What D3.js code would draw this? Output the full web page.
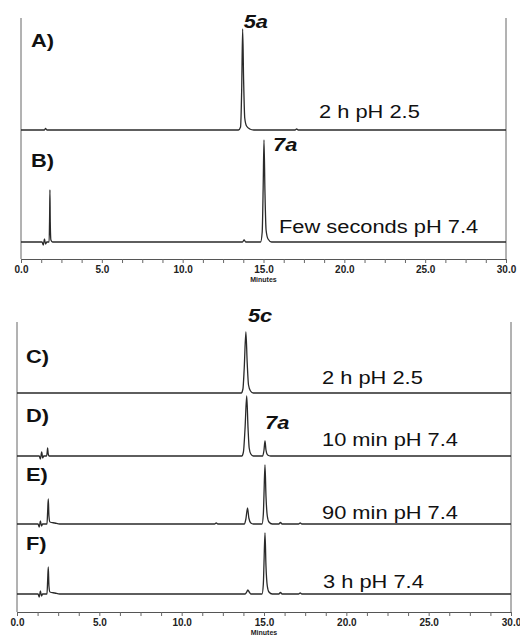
<!DOCTYPE html>
<html>
<head>
<meta charset="utf-8">
<script src="https://cdn.jsdelivr.net/npm/d3@7"></script>
<style>
  body { margin: 0; background: #fff; }
  svg { display: block; }
</style>
</head>
<body>
<svg id="chart"></svg>
<script>
// retention time axis, minutes
const timeDomain = [0, 30];
const minorStep = 1.25;

// chromatogram traces: [minutes, detector signal (a.u.)]
const traceA = [[0,0],[1.45,0],[1.52,1.5],[1.6,0],[13.45,0],[13.58,3],[13.65,40],[13.71,101],[13.77,50],[13.84,12],[13.95,4],[14.15,1],[14.4,0],[16.95,0],[17.05,1],[17.15,0],[30,0]];
const traceB = [[0,0],[1.3,0],[1.38,-3],[1.45,3],[1.52,-2],[1.6,0],[1.74,0],[1.77,25],[1.79,52],[1.81,20],[1.85,2],[1.95,0],[13.7,0],[13.8,2],[13.9,0],[14.82,0],[14.92,10],[14.98,55],[15.03,102],[15.09,50],[15.16,12],[15.28,3],[15.5,0],[30,0]];
const traceC = [[0,0],[13.62,0],[13.72,4],[13.8,25],[13.9,61],[13.98,30],[14.06,8],[14.18,2],[14.35,0],[30,0]];
const traceD = [[0,0],[1.35,0],[1.42,-3],[1.5,4],[1.56,-2],[1.63,0],[1.8,0],[1.84,5],[1.86,8],[1.89,3],[1.94,0],[13.65,0],[13.75,4],[13.85,28],[13.95,60],[14.03,28],[14.1,8],[14.2,2],[14.35,0],[14.92,0],[15.0,6],[15.06,15],[15.12,6],[15.22,1],[15.4,0],[30,0]];
const traceE = [[0,0],[1.28,0],[1.35,-3],[1.42,3],[1.49,-2],[1.56,0],[1.82,0],[1.86,12],[1.9,25],[1.94,8],[2.0,2],[2.3,1],[2.6,0],[12.0,0],[12.1,1],[12.2,0],[13.8,0],[13.9,5],[14.0,16],[14.08,6],[14.2,1],[14.35,0],[14.88,0],[14.96,10],[15.0,30],[15.06,59],[15.12,28],[15.2,8],[15.3,2],[15.5,0],[15.9,0],[16.0,1.5],[16.1,0],[17.1,0],[17.2,1],[17.3,0],[30,0]];
const traceF = [[0,0],[1.28,0],[1.35,-3],[1.42,3],[1.49,-2],[1.56,0],[1.82,0],[1.86,13],[1.9,27],[1.94,8],[2.0,2],[2.3,1],[2.6,0],[13.85,0],[13.95,2],[14.02,4],[14.1,2],[14.2,0],[14.88,0],[14.96,10],[15.0,31],[15.06,61],[15.12,28],[15.2,8],[15.3,2],[15.5,0],[15.9,0],[16.0,1.5],[16.1,0],[17.1,0],[17.2,1],[17.3,0],[30,0]];

const panelLabels = ["A)", "B)", "C)", "D)", "E)", "F)"];
const conditions = ["2 h pH 2.5", "Few seconds pH 7.4", "2 h pH 2.5", "10 min pH 7.4", "90 min pH 7.4", "3 h pH 7.4"];
// compound names and the retention time of the peak they tag
const compoundNames = ["5a", "7a", "5c", "7a"];
const compoundTimes = [13.71, 15.03, 13.9, 15.06];

const width = 520, height = 635;
const fontFamily = "'Liberation Sans', Arial, Helvetica, sans-serif";
const stretch = 1.15;

const svg = d3.select("#chart").attr("width", width).attr("height", height);

// two stacked panels; offsets stack the traces inside each panel (signal units)
const panels = [
  { xRange: [21, 506], yRange: [259, 18], maxY: 241, traces: [traceA, traceB], offsets: [129, 17],
    idx: [0, 1], labelX: [31, 31], labelY: [47, 167], textX: [319, 279], textY: [118, 233],
    comp: [0, 1], compDx: [1, 9], compY: [28, 151] },
  { xRange: [17, 511], yRange: [612, 322], maxY: 290, traces: [traceC, traceD, traceE, traceF], offsets: [219, 156, 88, 18],
    idx: [2, 3, 4, 5], labelX: [26, 26, 26, 26], labelY: [363, 422, 481, 550], textX: [322, 322, 322, 323], textY: [384, 446, 519, 588],
    comp: [2, 3], compDx: [2, 0], compY: [322, 429] }
];

const line = (x, y, off) => d3.line()
  .x(d => x(d[0]))
  .y(d => y(d[1] + off))
  .curve(d3.curveMonotoneX);

function stretchedText(g, x, y, txt, size, weight, style) {
  g.append("text")
    .attr("transform", `translate(${x},${y}) scale(${stretch},1)`)
    .attr("font-family", fontFamily)
    .attr("font-size", size)
    .attr("font-weight", weight)
    .attr("font-style", style || "normal")
    .attr("fill", "#111")
    .text(txt);
}

panels.forEach(p => {
  const x = d3.scaleLinear().domain(timeDomain).range(p.xRange);
  const y = d3.scaleLinear().domain([0, p.maxY]).range(p.yRange);
  const g = svg.append("g");

  // side frame lines
  [timeDomain[0], timeDomain[1]].forEach(t => {
    g.append("line")
      .attr("x1", x(t)).attr("x2", x(t))
      .attr("y1", y(p.maxY)).attr("y2", y(0))
      .attr("stroke", "#666").attr("stroke-width", 1);
  });

  // time axis
  const ticks = d3.range(timeDomain[0], timeDomain[1] + 0.001, minorStep);
  const axis = g.append("g")
    .attr("transform", `translate(0,${y(0)})`)
    .call(d3.axisBottom(x).tickValues(ticks).tickSizeInner(4).tickSizeOuter(0)
      .tickFormat(d => d % 5 === 0 ? d3.format(".1f")(d) : ""));
  axis.select(".domain").attr("stroke", "#555").attr("stroke-width", 1.2);
  axis.selectAll(".tick line").attr("stroke", "#666");
  axis.selectAll(".tick text")
    .attr("font-family", fontFamily)
    .attr("font-size", 10)
    .attr("font-weight", "bold")
    .attr("fill", "#222");

  g.append("text")
    .attr("x", x(15)).attr("y", y(0) + 23)
    .attr("text-anchor", "middle")
    .attr("font-family", fontFamily)
    .attr("font-size", 7)
    .attr("font-weight", "bold")
    .attr("fill", "#222")
    .text("Minutes");

  // traces
  p.traces.forEach((tr, i) => {
    g.append("path")
      .datum(tr)
      .attr("d", line(x, y, p.offsets[i]))
      .attr("fill", "none")
      .attr("stroke", "#2a2a2a")
      .attr("stroke-width", 1.3)
      .attr("stroke-linejoin", "round");

    const k = p.idx[i];
    stretchedText(g, p.labelX[i], p.labelY[i], panelLabels[k], 19, "bold");
    stretchedText(g, p.textX[i], p.textY[i], conditions[k], 19, "normal");
  });

  // compound tags above their peaks
  p.comp.forEach((c, j) => {
    stretchedText(g, x(compoundTimes[c]) + p.compDx[j], p.compY[j], compoundNames[c], 19, "bold", "italic");
  });
});
</script>
</body>
</html>
